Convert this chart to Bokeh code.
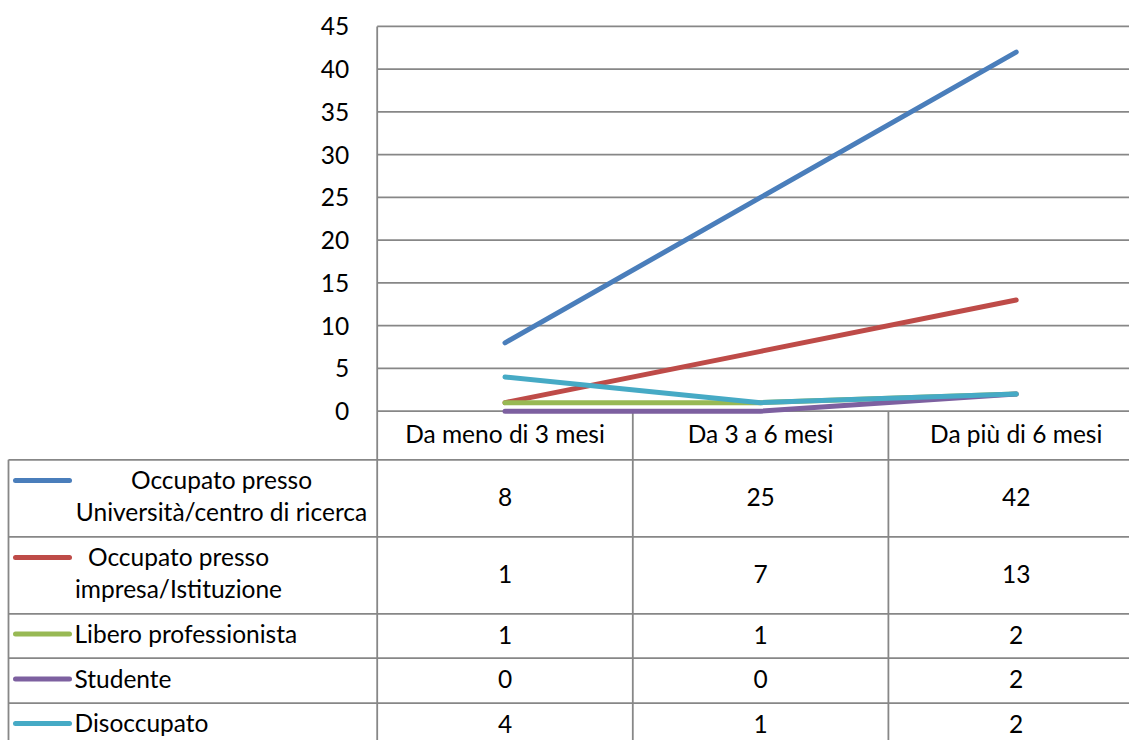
from bokeh.plotting import figure
from bokeh.models import Range1d, LinearAxis, FixedTicker
from bokeh.core.properties import value
from bokeh.embed import file_html
from bokeh.resources import INLINE

# ---- data ----------------------------------------------------------------
categories = ["Da meno di 3 mesi", "Da 3 a 6 mesi", "Da più di 6 mesi"]
series_names = [
    ["Occupato presso", "Università/centro di ricerca"],
    ["Occupato presso", "impresa/Istituzione"],
    ["Libero professionista"],
    ["Studente"],
    ["Disoccupato"],
]
univ = [8, 25, 42]
impresa = [1, 7, 13]
libero = [1, 1, 2]
studente = [0, 0, 2]
disoccupato = [4, 1, 2]
series_values = [univ, impresa, libero, studente, disoccupato]
series_colors = ["#4A7EBB", "#BE4B48", "#98B954", "#7D60A0", "#46AAC5"]
y_ticks = [0, 5, 10, 15, 20, 25, 30, 35, 40, 45]

# ---- layout (pixels) -----------------------------------------------------
W, H = 1129, 740
AXIS_PX = 376.7        # left edge of the plot area
COL_PX = 255.6         # width of one category column
ZERO_PX = 410.7        # vertical pixel of value 0
UNIT_PX = 42.75 / 5    # pixels per unit on the value axis
TABLE_LEFT_PX = 8.0
ROW_LINES_PX = [459.3, 536.3, 613.3, 657.7, 702.7]
TEXT_SHIFT_PX = -2.5   # optical correction for the text baseline
HEADER_MID_PX = 435.0
ROW_MID_PX = [498.5, 575.5, 637.0, 681.0, 725.5]
LABEL_LINE_PX = [[481.0, 513.5], [558.0, 590.5], [635.0], [680.0], [724.5]]
SWATCH_LINE_PX = [480.0, 557.0, 633.5, 678.5, 723.0]
LABEL_CENTER_PX = [221.0, 178.0]
SWATCH_PX = (15.0, 69.0)
LABEL_LEFT_PX = 74.0

FONT = value("Lato")
FONT_SIZE = value("24.5px")
GRID_COLOR = "#878787"


def xd(px):
    return (px - AXIS_PX) / COL_PX


def yd(py):
    return (ZERO_PX - py) / UNIT_PX


def yt(py):
    return yd(py + TEXT_SHIFT_PX)


x_end = float(len(categories))
x_pos = [i + 0.5 for i in range(len(categories))]

p = figure(width=W, height=H, output_backend="svg", toolbar_location=None,
           x_range=Range1d(xd(0), xd(W)), y_range=Range1d(yd(H), yd(0)),
           x_axis_location=None, y_axis_location=None, min_border=0,
           outline_line_color=None, background_fill_color="white",
           border_fill_color="white")
p.grid.visible = False

# value axis sitting at the left edge of the plot area
yaxis = LinearAxis(fixed_location=0, ticker=FixedTicker(ticks=y_ticks),
                   axis_line_color=None, major_tick_line_color=None,
                   minor_tick_line_color=None, major_label_standoff=22,
                   major_label_text_font="Lato",
                   major_label_text_font_size="24.5px",
                   major_label_text_color="black")
p.add_layout(yaxis, "left")

# horizontal grid lines
p.segment(x0=[0] * len(y_ticks), y0=y_ticks, x1=[x_end] * len(y_ticks),
          y1=y_ticks, line_color=GRID_COLOR, line_width=1.8)

# data table borders
bottom = yd(H + 2)
rows_y = [yd(py) for py in ROW_LINES_PX]
p.segment(x0=[xd(TABLE_LEFT_PX)] * len(rows_y), y0=rows_y,
          x1=[x_end] * len(rows_y), y1=rows_y,
          line_color=GRID_COLOR, line_width=1.8)
p.segment(x0=[xd(TABLE_LEFT_PX), 0] + list(range(1, len(categories))),
          y0=[rows_y[0], y_ticks[-1]] + [0] * (len(categories) - 1),
          x1=[xd(TABLE_LEFT_PX), 0] + list(range(1, len(categories))),
          y1=[bottom] * (len(categories) + 1),
          line_color=GRID_COLOR, line_width=1.8)

# series lines
for vals, col in zip(series_values, series_colors):
    p.line(x_pos, vals, line_color=col, line_width=5, line_cap="round",
           line_join="round")

# category header row
p.text(x=x_pos, y=[yt(HEADER_MID_PX)] * len(categories), text=categories,
       text_font=FONT, text_font_size=FONT_SIZE, text_color="black",
       text_align="center", text_baseline="middle")

# legend column and values
for r, (names, vals, col) in enumerate(zip(series_names, series_values,
                                           series_colors)):
    sy = yd(SWATCH_LINE_PX[r])
    p.segment(x0=[xd(SWATCH_PX[0])], y0=[sy], x1=[xd(SWATCH_PX[1])], y1=[sy],
              line_color=col, line_width=5, line_cap="round")
    if len(names) > 1:
        cx = xd(LABEL_CENTER_PX[r])
        p.text(x=[cx] * len(names), y=[yt(py) for py in LABEL_LINE_PX[r]],
               text=names, text_font=FONT, text_font_size=FONT_SIZE,
               text_color="black", text_align="center",
               text_baseline="middle")
    else:
        p.text(x=[xd(LABEL_LEFT_PX)], y=[yt(LABEL_LINE_PX[r][0])],
               text=names, text_font=FONT, text_font_size=FONT_SIZE,
               text_color="black", text_align="left", text_baseline="middle")
    p.text(x=x_pos, y=[yt(ROW_MID_PX[r])] * len(vals),
           text=[str(v) for v in vals], text_font=FONT,
           text_font_size=FONT_SIZE, text_color="black",
           text_align="center", text_baseline="middle")

open("out.html", "w").write(file_html(p, INLINE))
